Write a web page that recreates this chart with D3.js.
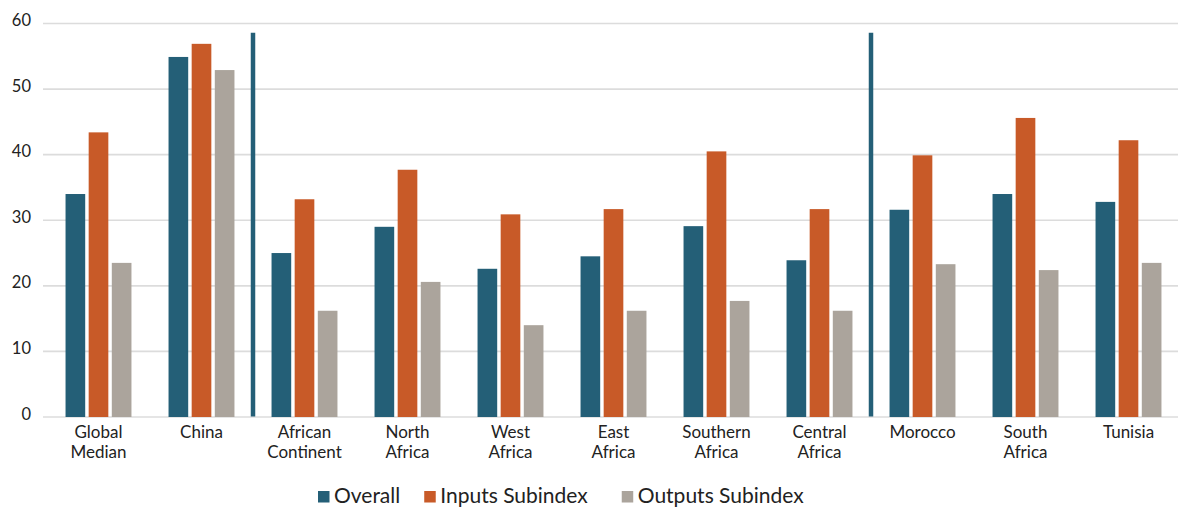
<!DOCTYPE html>
<html><head><meta charset="utf-8">
<script src="https://cdn.jsdelivr.net/npm/d3@7"></script>
<style>
body{margin:0;background:#fff;}
text{font-family:Lato,"Open Sans",sans-serif;fill:#222;}
</style></head>
<body><svg id="c" width="1178" height="508"></svg>
<script>
const categories = [["Global","Median"],["China"],["African","Continent"],["North","Africa"],["West","Africa"],["East","Africa"],["Southern","Africa"],["Central","Africa"],["Morocco"],["South","Africa"],["Tunisia"]];
const seriesNames = ["Overall","Inputs Subindex","Outputs Subindex"];
const overall = [34.0,54.9,25.0,29.0,22.6,24.5,29.1,23.9,31.6,34.0,32.8];
const inputs  = [43.4,56.9,33.2,37.7,30.9,31.7,40.5,31.7,39.9,45.6,42.2];
const outputs = [23.5,52.9,16.2,20.6,14.0,16.2,17.7,16.2,23.3,22.4,23.5];
const yTicks = [0,10,20,30,40,50,60];
const separatorsAfter = [1,7];
const separatorTop = 58.6;
const colors = ["#245f77","#c85a28","#aba49c"];

(function(){
const svg = d3.select("#c");
const mLeft=43,mRight=1178,mTop=23.5,mBottom=417;
const y = d3.scaleLinear().domain([0,60]).range([mBottom,mTop]);
const keys = categories.map((c,i)=>i);
const x0 = d3.scaleBand().domain(keys).range([47,1180]).paddingInner(0.36).paddingOuter(0.18);
const x1 = d3.scaleBand().domain(seriesNames).range([0,x0.bandwidth()]).paddingInner(0.15);
const data = [overall,inputs,outputs];

svg.append("g").selectAll("line").data(yTicks).join("line")
  .attr("x1",mLeft).attr("x2",mRight).attr("y1",d=>y(d)).attr("y2",d=>y(d))
  .attr("stroke","#dcdcdc").attr("stroke-width",1.6);
svg.append("g").selectAll("text").data(yTicks).join("text")
  .attr("x",31).attr("y",d=>y(d)+2.5).attr("text-anchor","end")
  .attr("font-size",16.5).text(d=>d);

seriesNames.forEach((s,si)=>{
  svg.append("g").selectAll("rect").data(data[si]).join("rect")
    .attr("x",(d,i)=>x0(i)+x1(s)).attr("width",x1.bandwidth())
    .attr("y",d=>y(d)).attr("height",d=>y(0)-y(d)).attr("fill",colors[si]);
});

svg.append("g").selectAll("line").data(separatorsAfter).join("line")
  .attr("x1",i=>(x0(i)+x0.bandwidth()+x0(i+1))/2)
  .attr("x2",i=>(x0(i)+x0.bandwidth()+x0(i+1))/2)
  .attr("y1",y(separatorTop)).attr("y2",y(0)-0.5)
  .attr("stroke","#245f77").attr("stroke-width",4.5);

const cg = svg.append("g");
categories.forEach((lines,i)=>{
  const cx = x0(i)+x0.bandwidth()/2;
  const t = cg.append("text").attr("text-anchor","middle").attr("font-size",17).attr("x",cx);
  lines.forEach((l,j)=>t.append("tspan").attr("x",cx).attr("y",437.5+j*20.5).text(l));
});

const lg = svg.append("g");
let lx = 318;
const gaps=[24,34,0];
seriesNames.forEach((s,i)=>{
  lg.append("rect").attr("x",lx).attr("y",491).attr("width",11.5).attr("height",11.5).attr("fill",colors[i]);
  const t = lg.append("text").attr("x",lx+16).attr("y",503).attr("font-size",21).text(s);
  lx = lx+16+t.node().getComputedTextLength()+gaps[i];
});
})();
</script></body></html>
